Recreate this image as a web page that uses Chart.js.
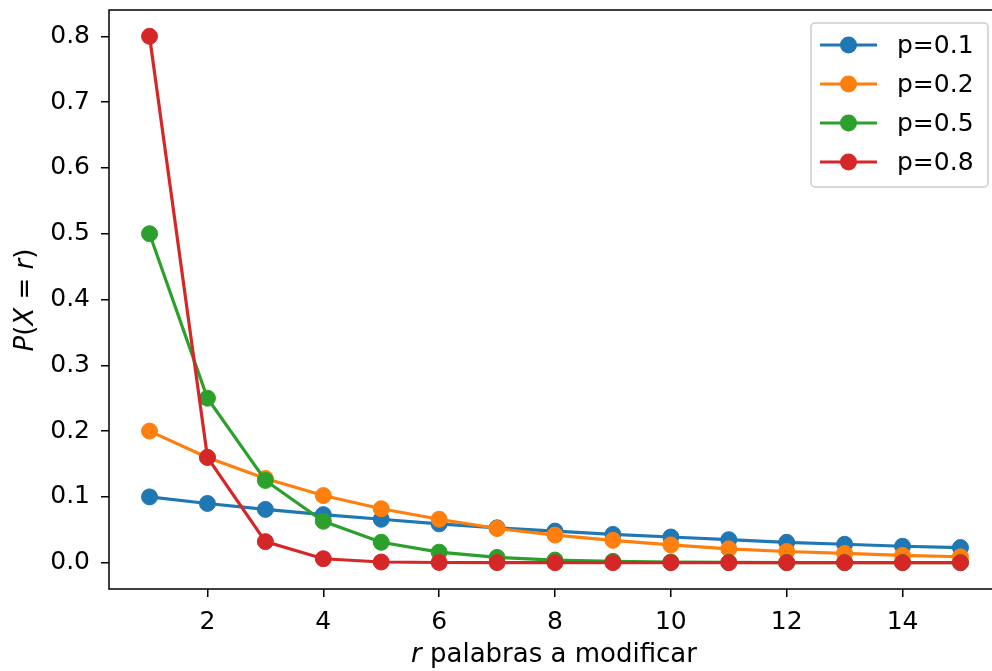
<!DOCTYPE html>
<html>
<head>
<meta charset="utf-8">
<script src="https://cdn.jsdelivr.net/npm/chart.js@4.4.0/dist/chart.umd.min.js"></script>
<style>
  html, body { margin: 0; padding: 0; background: #fff; overflow: hidden; }
  #wrap { width: 992px; height: 671px; overflow: hidden; }
  canvas { display: block; }
</style>
</head>
<body>
<div id="wrap"><canvas id="grafico" width="1010" height="671"></canvas></div>
<script>
// valores
const rValores = [1, 2, 3, 4, 5, 6, 7, 8, 9, 10, 11, 12, 13, 14, 15];
const serieP01 = [0.100, 0.090, 0.081, 0.073, 0.066, 0.059, 0.053, 0.048, 0.043, 0.039, 0.035, 0.031, 0.028, 0.025, 0.023];
const serieP02 = [0.200, 0.160, 0.128, 0.102, 0.082, 0.066, 0.052, 0.042, 0.034, 0.027, 0.021, 0.017, 0.014, 0.011, 0.009];
const serieP05 = [0.500, 0.250, 0.125, 0.063, 0.031, 0.016, 0.008, 0.004, 0.002, 0.001, 0.0005, 0.0002, 0.0001, 0.0001, 0.0];
const serieP08 = [0.800, 0.160, 0.032, 0.006, 0.001, 0.0003, 0.0001, 0.0, 0.0, 0.0, 0.0, 0.0, 0.0, 0.0, 0.0];
const etiquetas = ['p=0.1', 'p=0.2', 'p=0.5', 'p=0.8'];
const colores = ['#1f77b4', '#ff7f0e', '#2ca02c', '#d62728'];
const ticksX = [2, 4, 6, 8, 10, 12, 14];
const ticksY = [0.0, 0.1, 0.2, 0.3, 0.4, 0.5, 0.6, 0.7, 0.8];

const FUENTE = 'DejaVu Sans';
const TAM = 25;        // ticks y leyenda
const TAM_TIT = 26;    // titulos de ejes
const series = [serieP01, serieP02, serieP05, serieP08];

const datasets = series.map((s, i) => ({
    label: etiquetas[i],
    data: s.map((v, j) => ({ x: rValores[j], y: v })),
    borderColor: colores[i],
    backgroundColor: colores[i],
    borderWidth: 3.2,
    pointRadius: 8,
    pointBorderWidth: 1,
    pointBorderColor: colores[i],
    pointBackgroundColor: colores[i],
    order: series.length - i,
    tension: 0
}));

// marco, titulos de ejes y leyenda
const pluginExtras = {
    id: 'extras',
    afterDraw(chart) {
        const ctx = chart.ctx;
        const a = chart.chartArea;
        ctx.save();
        ctx.strokeStyle = '#000';
        ctx.lineWidth = 1.5;
        ctx.strokeRect(a.left, a.top, a.right - a.left, a.bottom - a.top);

        // titulo eje x: "r palabras a modificar"
        ctx.fillStyle = '#000';
        ctx.textBaseline = 'alphabetic';
        const fItal = 'italic ' + TAM_TIT + 'px "' + FUENTE + '"';
        const fNorm = TAM_TIT + 'px "' + FUENTE + '"';
        ctx.font = fItal;
        const wR = ctx.measureText('r').width;
        ctx.font = fNorm;
        const resto = ' palabras a modificar';
        const wResto = ctx.measureText(resto).width;
        const x0 = 554 - (wR + wResto) / 2;
        ctx.font = fItal;
        ctx.fillText('r', x0, 662);
        ctx.font = fNorm;
        ctx.fillText(resto, x0 + wR, 662);

        // titulo eje y: "P(X = r)"
        ctx.translate(33, 300);
        ctx.rotate(-Math.PI / 2);
        const partes = [['P', fItal], ['(', fNorm], ['X', fItal], [' = ', fNorm], ['r', fItal], [')', fNorm]];
        let total = 0;
        partes.forEach(p => { ctx.font = p[1]; total += ctx.measureText(p[0]).width; });
        let px = -total / 2;
        partes.forEach(p => { ctx.font = p[1]; ctx.fillText(p[0], px, 0); px += ctx.measureText(p[0]).width; });
        ctx.restore();

        // leyenda
        ctx.save();
        const lx = 811, ly = 23, lw = 177, lh = 164;
        ctx.fillStyle = 'rgba(255,255,255,0.8)';
        ctx.strokeStyle = '#cccccc';
        ctx.lineWidth = 1.5;
        ctx.beginPath();
        ctx.roundRect(lx, ly, lw, lh, 4);
        ctx.fill();
        ctx.stroke();
        ctx.font = TAM + 'px "' + FUENTE + '"';
        ctx.textBaseline = 'middle';
        etiquetas.forEach((t, i) => {
            const y = 45 + i * 39;
            ctx.strokeStyle = colores[i];
            ctx.lineWidth = 3.2;
            ctx.beginPath();
            ctx.moveTo(820, y);
            ctx.lineTo(877, y);
            ctx.stroke();
            ctx.fillStyle = colores[i];
            ctx.beginPath();
            ctx.arc(848.5, y, 8.5, 0, Math.PI * 2);
            ctx.fill();
            ctx.fillStyle = '#000';
            ctx.fillText(t, 897, y + 1);
        });
        ctx.restore();
    }
};

new Chart(document.getElementById('grafico'), {
    type: 'line',
    data: { datasets },
    plugins: [pluginExtras],
    options: {
        responsive: false,
        animation: false,
        layout: { padding: { top: 10, right: 7, left: 0, bottom: 0 } },
        plugins: { legend: { display: false }, tooltip: { enabled: false } },
        scales: {
            x: {
                type: 'linear',
                min: 0.3,
                max: 15.7,
                afterBuildTicks: s => { s.ticks = ticksX.map(v => ({ value: v })); },
                afterFit: s => { s.height = 82; s.paddingLeft = 0; s.paddingRight = 0; },
                grid: { display: true, drawOnChartArea: false, color: '#000', tickLength: 8, lineWidth: 1.5 },
                border: { display: false },
                ticks: { color: '#000', font: { family: FUENTE, size: TAM }, padding: 10, maxRotation: 0, callback: v => String(v) }
            },
            y: {
                type: 'linear',
                min: -0.04,
                max: 0.84,
                afterBuildTicks: s => { s.ticks = ticksY.map(v => ({ value: v })); },
                afterFit: s => { s.width = 109; s.paddingTop = 0; s.paddingBottom = 0; },
                grid: { display: true, drawOnChartArea: false, color: '#000', tickLength: 8, lineWidth: 1.5 },
                border: { display: false },
                ticks: { color: '#000', font: { family: FUENTE, size: TAM }, padding: 11, callback: v => v.toFixed(1) }
            }
        }
    }
});
</script>
</body>
</html>
